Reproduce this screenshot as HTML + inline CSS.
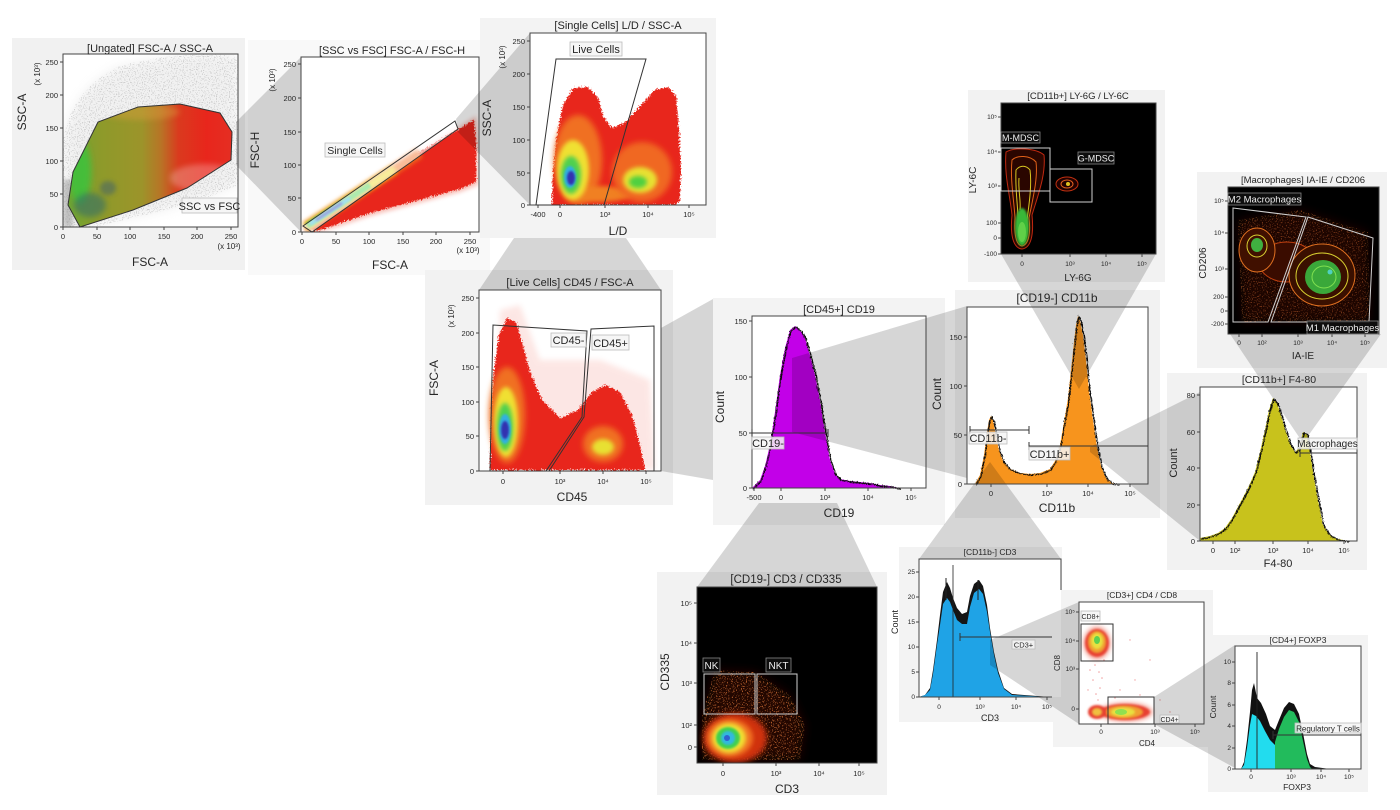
<!DOCTYPE html>
<html><head><meta charset="utf-8">
<style>
html,body{margin:0;padding:0;background:#fff}
svg{display:block}
text{font-family:"Liberation Sans",Arial,sans-serif;fill:#262626}
.tk{font-size:7.5px;fill:#333}
.tks{font-size:6.5px;fill:#333}
.ax{font-size:12px}
.gl{font-size:11px}
</style></head>
<body>
<svg width="1400" height="810" viewBox="0 0 1400 810" xmlns="http://www.w3.org/2000/svg">
<defs>
<filter id="b1" x="-20%" y="-20%" width="140%" height="140%"><feGaussianBlur stdDeviation="1"/></filter>
<filter id="b2" x="-30%" y="-30%" width="160%" height="160%"><feGaussianBlur stdDeviation="2"/></filter>
<filter id="b3" x="-30%" y="-30%" width="160%" height="160%"><feGaussianBlur stdDeviation="3"/></filter>
<filter id="b5" x="-30%" y="-30%" width="160%" height="160%"><feGaussianBlur stdDeviation="5"/></filter>
<filter id="rough" x="-5%" y="-10%" width="110%" height="120%"><feTurbulence type="turbulence" baseFrequency="0.9 0.3" numOctaves="1" seed="4" result="n"/><feDisplacementMap in="SourceGraphic" in2="n" scale="3" xChannelSelector="R" yChannelSelector="G"/></filter>
<filter id="rag" x="-10%" y="-10%" width="120%" height="120%"><feTurbulence type="fractalNoise" baseFrequency="0.7" numOctaves="2" seed="2" result="n"/><feDisplacementMap in="SourceGraphic" in2="n" scale="6" xChannelSelector="R" yChannelSelector="G"/></filter>
<filter id="spkR" x="0" y="0" width="100%" height="100%"><feTurbulence type="fractalNoise" baseFrequency="0.8" numOctaves="1" seed="9" result="n"/><feColorMatrix in="n" type="matrix" values="0 0 0 0 0.85 0 0 0 0 0.22 0 0 0 0 0.05 9 0 0 0 -5.1" result="d"/><feComposite in="d" in2="SourceAlpha" operator="in"/></filter>
<filter id="spkG" x="0" y="0" width="100%" height="100%"><feTurbulence type="fractalNoise" baseFrequency="0.85" numOctaves="1" seed="3" result="n"/><feColorMatrix in="n" type="matrix" values="0 0 0 0 0.55 0 0 0 0 0.55 0 0 0 0 0.55 9 0 0 0 -5.0" result="d"/><feComposite in="d" in2="SourceAlpha" operator="in"/></filter>
<linearGradient id="g1" gradientUnits="userSpaceOnUse" x1="63" y1="0" x2="238" y2="0">
<stop offset="0" stop-color="#6aa834"/><stop offset="0.22" stop-color="#8e9a2a"/><stop offset="0.45" stop-color="#9c942a"/><stop offset="0.56" stop-color="#b87426"/><stop offset="0.66" stop-color="#da3a1e"/><stop offset="0.82" stop-color="#e8261c"/><stop offset="1" stop-color="#e43024"/>
</linearGradient>
<clipPath id="c1"><rect x="63" y="54" width="175" height="173"/></clipPath>
<clipPath id="c1g"><polygon points="68,205 73,172 98,122 138,107 180,104 220,113 232,132 231,160 187,188 133,210 80,227"/></clipPath>
<clipPath id="c2"><rect x="301" y="57" width="178" height="175"/></clipPath>
<clipPath id="c3"><rect x="530" y="33" width="176" height="172"/></clipPath>
<clipPath id="c4"><rect x="479" y="290" width="182" height="181"/></clipPath>
<clipPath id="c7"><rect x="1001" y="103" width="155" height="151"/></clipPath>
<clipPath id="c8"><rect x="1228" y="187" width="151" height="147"/></clipPath>
<clipPath id="c10"><rect x="697" y="587" width="180" height="176"/></clipPath>
<clipPath id="c12"><rect x="1079" y="602" width="125" height="122"/></clipPath>
</defs>

<!-- PANEL BACKGROUNDS -->
<g>
<rect x="12" y="38" width="233" height="232" fill="#f1f1f1"/>
<rect x="248" y="40" width="242" height="235" fill="#f9f9f9"/>
<rect x="480" y="18" width="236" height="220" fill="#f3f3f3"/>
<rect x="425" y="270" width="248" height="235" fill="#f2f2f2"/>
<rect x="713" y="298" width="232" height="227" fill="#f3f3f3"/>
<rect x="955" y="290" width="205" height="228" fill="#f2f2f2"/>
<rect x="968" y="90" width="197" height="192" fill="#f2f2f2"/>
<rect x="1197" y="172" width="190" height="196" fill="#f2f2f2"/>
<rect x="1167" y="373" width="200" height="197" fill="#f2f2f2"/>
<rect x="657" y="572" width="230" height="223" fill="#f2f2f2"/>
<rect x="899" y="547" width="163" height="175" fill="#f3f3f3"/>
<rect x="1053" y="590" width="160" height="157" fill="#f3f3f3"/>
<rect x="1208" y="635" width="160" height="157" fill="#f3f3f3"/>
</g>

<!-- PLOT INTERIORS -->
<rect x="63" y="54" width="175" height="173" fill="#fff"/>
<rect x="301" y="57" width="178" height="175" fill="#fff"/>
<rect x="530" y="33" width="176" height="172" fill="#fff"/>
<rect x="479" y="290" width="182" height="181" fill="#fff"/>
<rect x="752" y="316" width="174" height="172" fill="#fff"/>
<rect x="967" y="307" width="181" height="177" fill="#fff"/>
<rect x="1001" y="103" width="155" height="151" fill="#000"/>
<rect x="1228" y="187" width="151" height="147" fill="#000"/>
<rect x="1200" y="387" width="157" height="154" fill="#fff"/>
<rect x="697" y="587" width="180" height="176" fill="#000"/>
<rect x="919" y="559" width="142" height="138" fill="#fff"/>
<rect x="1079" y="602" width="125" height="122" fill="#fff"/>
<rect x="1235" y="646" width="126" height="123" fill="#fff"/>

<!-- P1 DATA -->
<g clip-path="url(#c1)">
<path d="M63,227 L63,140 Q72,88 120,66 Q180,50 238,56 L238,185 Q200,202 150,214 Q110,223 95,227 Z" fill="#8a8a8a" fill-opacity="0.8" filter="url(#spkG)"/>
<path d="M63,227 L63,140 Q72,88 120,66 Q180,50 238,56 L238,185 Q200,202 150,214 Q110,223 95,227 Z" fill="#c8c8c8" opacity="0.25" filter="url(#b5)"/>
<rect x="63" y="180" width="10" height="47" fill="#8c8c8c" opacity="0.5" filter="url(#b2)"/>
<g clip-path="url(#c1g)">
<rect x="60" y="100" width="180" height="130" fill="url(#g1)"/>
<ellipse cx="80" cy="172" rx="11" ry="32" fill="#3ec23e" opacity="0.85" filter="url(#b3)"/>
<ellipse cx="90" cy="205" rx="16" ry="12" fill="#356e68" opacity="0.6" filter="url(#b3)"/>
<ellipse cx="108" cy="188" rx="8" ry="7" fill="#3e5f70" opacity="0.5" filter="url(#b2)"/>
<ellipse cx="205" cy="178" rx="35" ry="14" fill="#fff" opacity="0.25" filter="url(#b3)"/>
<ellipse cx="140" cy="112" rx="40" ry="8" fill="#e0a040" opacity="0.4" filter="url(#b3)"/>
</g>
</g>

<!-- P2 DATA -->
<g clip-path="url(#c2)">
<path d="M303,229 L340,205 L380,178 L420,152 L455,130 L476,116 L478,140 L478,185 L460,192 L430,200 L400,208 L370,216 L340,226 L318,232 L305,232 Z" fill="#f08070" opacity="0.5" filter="url(#b2)"/>
<path d="M305,229 L340,205 L380,178 L420,152 L455,131 L474,120 L476,142 L476,182 L460,189 L430,197 L400,205 L370,213 L340,223 L318,231 Z" fill="#e8261c" filter="url(#rag)"/>
<line x1="306" y1="227" x2="420" y2="153" stroke="#f06a1c" stroke-width="10" filter="url(#b2)"/>
<line x1="306" y1="227" x2="395" y2="169" stroke="#f0e020" stroke-width="8" filter="url(#b2)"/>
<line x1="307" y1="226" x2="370" y2="185" stroke="#48d050" stroke-width="6" filter="url(#b1)"/>
<line x1="310" y1="224" x2="350" y2="198" stroke="#30b8e0" stroke-width="4" filter="url(#b1)"/>
<line x1="316" y1="220" x2="342" y2="203" stroke="#2038b0" stroke-width="3" filter="url(#b1)"/>
</g>

<!-- P3 DATA -->
<g clip-path="url(#c3)">
<path d="M552,205 L553,172 L557,135 L563,105 L573,88 L588,87 L598,98 L604,118 L612,128 L626,122 L640,106 L655,90 L668,87 L676,96 L679,130 L681,170 L680,200 L676,205 Z" fill="#e8261c" filter="url(#rag)"/>
<ellipse cx="578" cy="160" rx="24" ry="45" fill="#f07020" filter="url(#b3)"/>
<ellipse cx="598" cy="194" rx="34" ry="8" fill="#f08020" filter="url(#b2)"/>
<ellipse cx="573" cy="170" rx="16" ry="30" fill="#f0e030" filter="url(#b2)"/>
<ellipse cx="571" cy="175" rx="10" ry="19" fill="#50d050" filter="url(#b2)"/>
<ellipse cx="570" cy="177" rx="6" ry="11" fill="#30b0e0" filter="url(#b1)"/>
<ellipse cx="571" cy="178" rx="4" ry="7" fill="#3030b0" filter="url(#b1)"/>
<ellipse cx="642" cy="172" rx="30" ry="30" fill="#f06820" filter="url(#b3)"/>
<ellipse cx="640" cy="180" rx="17" ry="13" fill="#e8e030" filter="url(#b2)"/>
<ellipse cx="638" cy="182" rx="9" ry="6" fill="#50d040" filter="url(#b2)"/>
</g>

<!-- P4 DATA -->
<g clip-path="url(#c4)">
<path d="M495,470 L500,310 L520,305 L540,360 L600,360 L650,380 L655,470 Z" fill="#f06050" opacity="0.15" filter="url(#b3)"/>
<path d="M490,470 L491,420 L494,370 L499,335 L507,318 L516,322 L523,345 L530,372 L542,400 L560,418 L578,410 L592,392 L606,385 L620,392 L632,415 L640,445 L645,470 Z" fill="#e8261c" filter="url(#rag)"/>
<ellipse cx="507" cy="415" rx="18" ry="48" fill="#f07020" filter="url(#b3)"/>
<ellipse cx="506" cy="422" rx="12" ry="35" fill="#f0e030" filter="url(#b2)"/>
<ellipse cx="505" cy="427" rx="8" ry="24" fill="#50d050" filter="url(#b2)"/>
<ellipse cx="505" cy="429" rx="6" ry="15" fill="#30b0e0" filter="url(#b1)"/>
<ellipse cx="505" cy="430" rx="4" ry="9" fill="#3030b0" filter="url(#b1)"/>
<ellipse cx="603" cy="444" rx="20" ry="18" fill="#f07020" filter="url(#b3)"/>
<ellipse cx="603" cy="447" rx="11" ry="8" fill="#e8e030" filter="url(#b2)"/>
</g>

<!-- P5 HIST -->
<path d="M752,488 L760,480 L765,466 L770,445 L775,412 L780,375 L785,348 L790,330 L795,326 L800,330 L805,338 L810,355 L815,375 L820,400 L825,432 L830,460 L835,474 L840,479 L850,481 L860,482 L870,483 L880,485 L890,486 L900,488 Z" fill="#c200e8"/>
<path d="M752,488 L760,480 L765,466 L770,445 L775,412 L780,375 L785,348 L790,330 L795,326 L800,330 L805,338 L810,355 L815,375 L820,400 L825,432 L830,460 L835,474 L840,479 L850,481 L860,482 L870,483 L880,485 L890,486 L900,488" fill="none" stroke="#111" stroke-width="1.4" filter="url(#rough)"/>

<!-- P6 HIST -->
<path d="M975,484 L980,475 L984,455 L987,432 L989,420 L991,416 L993,420 L996,436 L999,450 L1003,461 L1010,469 L1020,473 L1030,474 L1040,473 L1050,469 L1055,461 L1060,445 L1064,422 L1068,398 L1071,370 L1074,342 L1076,325 L1078,316 L1080,320 L1083,335 L1086,360 L1089,390 L1093,420 L1097,447 L1101,466 L1106,478 L1112,483 L1118,484 Z" fill="#f7941d"/>
<path d="M975,484 L980,475 L984,455 L987,432 L989,420 L991,416 L993,420 L996,436 L999,450 L1003,461 L1010,469 L1020,473 L1030,474 L1040,473 L1050,469 L1055,461 L1060,445 L1064,422 L1068,398 L1071,370 L1074,342 L1076,325 L1078,316 L1080,320 L1083,335 L1086,360 L1089,390 L1093,420 L1097,447 L1101,466 L1106,478 L1112,483 L1118,484" fill="none" stroke="#111" stroke-width="1.3" filter="url(#rough)"/>

<!-- P7 DATA -->
<g clip-path="url(#c7)">
<path d="M1006,152 C1004,175 1010,195 1012,215 C1010,235 1013,248 1022,249 C1031,248 1034,235 1032,215 C1038,195 1046,175 1044,155 C1036,148 1014,147 1006,152Z" fill="#2a0600" stroke="#c02810" stroke-width="1"/>
<path d="M1012,160 C1010,180 1014,200 1015,218 C1014,235 1016,245 1022,246 C1028,245 1031,235 1029,218 C1033,198 1038,178 1036,162 C1030,155 1017,155 1012,160Z" fill="none" stroke="#e06018" stroke-width="1"/>
<path d="M1016,170 C1015,190 1018,205 1018,220 C1017,235 1019,243 1022,243 C1026,243 1028,235 1027,220 C1029,205 1032,185 1030,170 C1026,165 1020,165 1016,170Z" fill="none" stroke="#d8c820" stroke-width="1"/>
<path d="M1019,178 C1018,190 1021,200 1020,210" fill="none" stroke="#d8c820" stroke-width="1"/>
<ellipse cx="1022" cy="227" rx="7" ry="19" fill="#38b838" filter="url(#b1)"/>
<ellipse cx="1022" cy="232" rx="4" ry="10" fill="#60d048"/>
<ellipse cx="1067" cy="184" rx="11" ry="7" fill="#200000" stroke="#c03010"/>
<ellipse cx="1067" cy="184" rx="6" ry="4" fill="none" stroke="#e06020"/>
<ellipse cx="1068" cy="184" rx="2" ry="2" fill="#e0c020"/>
</g>

<!-- P8 DATA -->
<g clip-path="url(#c8)">
<path d="M1238,220 L1300,210 L1368,232 L1370,322 L1242,322 Z" fill="#d83010" fill-opacity="0.6" filter="url(#spkR)"/>
<path d="M1238,220 L1300,210 L1368,232 L1370,322 L1242,322 Z" fill="#4a1004" opacity="0.4" filter="url(#b5)"/>
<ellipse cx="1287" cy="262" rx="28" ry="20" fill="#3a0c00" stroke="#c04010"/>
<ellipse cx="1257" cy="250" rx="18" ry="22" fill="#401000" stroke="#e07020"/>
<ellipse cx="1257" cy="246" rx="10" ry="11" fill="none" stroke="#d8d030"/>
<ellipse cx="1257" cy="245" rx="6" ry="7" fill="#40b040"/>
<ellipse cx="1322" cy="275" rx="33" ry="31" fill="#3a1000" stroke="#e07020"/>
<ellipse cx="1322" cy="276" rx="26" ry="23" fill="none" stroke="#d8d030"/>
<ellipse cx="1323" cy="277" rx="18" ry="17" fill="#3aa83a"/>
<ellipse cx="1324" cy="277" rx="12" ry="11" fill="none" stroke="#80e050"/>
<circle cx="1330" cy="272" r="2.5" fill="#50d0c0"/>
</g>

<!-- P9 HIST -->
<path d="M1200,541 L1200,538 L1210,536 L1218,533 L1225,528 L1232,518 L1240,503 L1248,488 L1255,472 L1260,452 L1265,430 L1269,410 L1273,398 L1277,403 L1281,415 L1286,432 L1291,446 L1295,452 L1299,448 L1303,432 L1307,434 L1310,452 L1314,478 L1318,500 L1323,525 L1330,535 L1338,539 L1348,541 Z" fill="#c8c21c"/>
<path d="M1200,538 L1210,536 L1218,533 L1225,528 L1232,518 L1240,503 L1248,488 L1255,472 L1260,452 L1265,430 L1269,410 L1273,398 L1277,403 L1281,415 L1286,432 L1291,446 L1295,452 L1299,448 L1303,432 L1307,434 L1310,452 L1314,478 L1318,500 L1323,525 L1330,535 L1338,539 L1348,541" fill="none" stroke="#111" stroke-width="1.4" filter="url(#rough)"/>

<!-- P10 DATA -->
<g clip-path="url(#c10)">
<path d="M702,715 L715,670 L755,672 L790,695 L805,725 L800,760 L702,760 Z" fill="#3a0800" opacity="0.6" filter="url(#b5)"/>
<path d="M702,715 L715,670 L755,672 L790,695 L805,725 L800,760 L702,760 Z" fill="#d02a10" fill-opacity="0.7" filter="url(#spkR)"/>
<ellipse cx="735" cy="738" rx="32" ry="25" fill="#d03010" filter="url(#b3)"/>
<ellipse cx="730" cy="738" rx="23" ry="19" fill="#f07020" filter="url(#b2)"/>
<ellipse cx="729" cy="738" rx="17" ry="15" fill="#f0e030" filter="url(#b2)"/>
<ellipse cx="728" cy="738" rx="12" ry="11" fill="#40d050" filter="url(#b1)"/>
<ellipse cx="728" cy="738" rx="7" ry="7" fill="#30b8e0" filter="url(#b1)"/>
<ellipse cx="727" cy="738" rx="3" ry="3" fill="#3060d0"/>
</g>

<!-- P11 HIST -->
<path d="M919,697 L925,695 L930,688 L933,670 L937,640 L940,615 L943,592 L947,582 L950,588 L953,598 L957,608 L962,614 L967,612 L970,596 L974,584 L979,580 L983,586 L987,605 L990,628 L994,652 L998,670 L1004,688 L1012,694 L1050,697 Z" fill="#151515"/>
<path d="M919,697 L925,695 L930,690 L933,674 L937,645 L940,625 L943,604 L947,598 L950,602 L953,610 L957,620 L962,624 L967,624 L970,607 L974,593 L979,589 L983,594 L987,612 L990,632 L994,655 L998,673 L1004,689 L1012,695 L1050,697 Z" fill="#1fa3e6"/>
<line x1="953" y1="697" x2="953" y2="565" stroke="#222" stroke-width="0.8"/>
<line x1="946" y1="600" x2="946" y2="578" stroke="#222" stroke-width="1"/>
<line x1="978" y1="600" x2="978" y2="580" stroke="#222" stroke-width="1"/>

<!-- P12 DATA -->
<g clip-path="url(#c12)">
<g fill="#f0a0a0">
<circle cx="1095" cy="665" r="0.8"/><circle cx="1099" cy="672" r="0.8"/><circle cx="1093" cy="680" r="0.8"/><circle cx="1100" cy="688" r="0.8"/><circle cx="1096" cy="694" r="0.8"/><circle cx="1104" cy="660" r="0.8"/><circle cx="1090" cy="670" r="0.8"/><circle cx="1102" cy="678" r="0.8"/><circle cx="1120" cy="690" r="0.7"/><circle cx="1135" cy="680" r="0.7"/><circle cx="1150" cy="660" r="0.7"/><circle cx="1130" cy="640" r="0.7"/><circle cx="1160" cy="700" r="0.7"/><circle cx="1115" cy="698" r="0.7"/><circle cx="1140" cy="695" r="0.7"/><circle cx="1088" cy="690" r="0.7"/><circle cx="1098" cy="700" r="0.7"/><circle cx="1170" cy="712" r="0.7"/>
</g>
<ellipse cx="1097" cy="643" rx="14" ry="17" fill="#f08070" opacity="0.6" filter="url(#b2)"/>
<ellipse cx="1097" cy="643" rx="12" ry="14" fill="#e84030" filter="url(#b1)"/>
<ellipse cx="1097" cy="642" rx="9" ry="11" fill="#f0a030" filter="url(#b1)"/>
<ellipse cx="1097" cy="641" rx="6" ry="8" fill="#e8e040" filter="url(#b1)"/>
<ellipse cx="1097" cy="640" rx="3" ry="4" fill="#60d050"/>
<ellipse cx="1126" cy="712" rx="27" ry="10" fill="#f08070" opacity="0.6" filter="url(#b2)"/>
<ellipse cx="1125" cy="712" rx="25" ry="8" fill="#e84030" filter="url(#b1)"/>
<ellipse cx="1124" cy="712" rx="19" ry="6.5" fill="#f0a030" filter="url(#b1)"/>
<ellipse cx="1123" cy="712" rx="12" ry="4.5" fill="#e8e040" filter="url(#b1)"/>
<ellipse cx="1121" cy="712" rx="6" ry="3" fill="#90e050"/>
<ellipse cx="1097" cy="712" rx="9" ry="7" fill="#e84030" filter="url(#b1)"/>
<ellipse cx="1097" cy="712" rx="5" ry="4" fill="#f0c040" filter="url(#b1)"/>
</g>

<!-- P13 HIST -->
<path d="M1241,769 L1244,762 L1247,740 L1250,712 L1252,690 L1254,683 L1257,698 L1261,703 L1266,714 L1270,726 L1275,730 L1279,720 L1284,708 L1289,702 L1294,704 L1299,714 L1303,733 L1307,754 L1310,764 L1315,767 L1330,769 Z" fill="#111"/>
<path d="M1241,769 L1244,765 L1247,748 L1250,725 L1252,714 L1256,716 L1260,721 L1265,731 L1270,740 L1275,745 L1275,769 Z" fill="#22dcee"/>
<path d="M1275,769 L1275,742 L1279,729 L1284,717 L1289,710 L1294,712 L1299,722 L1303,741 L1307,759 L1310,767 L1312,769 Z" fill="#22bb5c"/>
<line x1="1257" y1="769" x2="1257" y2="652" stroke="#222" stroke-width="0.9"/>

<!-- CONES -->
<g fill="#000" fill-opacity="0.16">
<polygon points="236,122 301,57 301,232 236,165"/>
<polygon points="456,119 530,33 530,205 458,132"/>
<polygon points="514,238 626,238 661,290 479,290"/>
<polygon points="661,328 713,299 713,480 661,471"/>
<polygon points="792,358 967,306 967,478 792,432"/>
<polygon points="759,503 837,503 877,587 697,587"/>
<polygon points="1079,389 1001,254 1156,254"/>
<polygon points="1090,447 1200,392 1200,541 1090,452"/>
<polygon points="990,462 1061,559 919,559"/>
<polygon points="1303,443 1230,334 1381,334"/>
<polygon points="990,640 1079,602 1079,724 990,665"/>
<polygon points="1154,697 1235,645 1235,768 1154,724"/>
</g>

<!-- FRAMES -->
<g fill="none" stroke="#444" stroke-width="1">
<rect x="63" y="54" width="175" height="173"/>
<rect x="301" y="57" width="178" height="175"/>
<rect x="530" y="33" width="176" height="172"/>
<rect x="479" y="290" width="182" height="181"/>
<rect x="752" y="316" width="174" height="172"/>
<rect x="967" y="307" width="181" height="177"/>
<rect x="1001" y="103" width="155" height="151"/>
<rect x="1228" y="187" width="151" height="147"/>
<rect x="1200" y="387" width="157" height="154"/>
<rect x="697" y="587" width="180" height="176"/>
<path d="M919,697 L919,559 L1061,559 L1061,590 M919,697 L1052,697"/>
<rect x="1079" y="602" width="125" height="122"/>
<rect x="1235" y="646" width="126" height="123"/>
</g>

<!-- TICK MARKS -->
<g stroke="#444" stroke-width="1">
<path d="M60,227h3M60,194h3M60,161h3M60,128h3M60,95h3M60,62h3 M63,227v3M97,227v3M130,227v3M164,227v3M197,227v3M231,227v3"/>
<path d="M298,232h3M298,198h3M298,165h3M298,132h3M298,98h3M298,64h3 M302,232v3M336,232v3M369,232v3M403,232v3M436,232v3M470,232v3"/>
<path d="M527,205h3M527,173h3M527,140h3M527,107h3M527,74h3M527,41h3 M538,205v3M560,205v3M605,205v3M648,205v3M689,205v3"/>
<path d="M476,471h3M476,436h3M476,402h3M476,367h3M476,333h3M476,298h3 M503,471v3M560,471v3M603,471v3M646,471v3"/>
<path d="M749,488h3M749,433h3M749,377h3M749,321h3 M754,488v3M781,488v3M825,488v3M868,488v3M911,488v3"/>
<path d="M964,484h3M964,435h3M964,386h3M964,337h3 M991,484v3M1047,484v3M1088,484v3M1130,484v3"/>
<path d="M998,254h3M998,238h3M998,223h3M998,186h3M998,152h3M998,117h3 M1022,254v3M1070,254v3M1106,254v3M1142,254v3"/>
<path d="M1225,324h3M1225,311h3M1225,297h3M1225,269h3M1225,233h3M1225,201h3 M1239,334v3M1262,334v3M1298,334v3M1332,334v3M1365,334v3"/>
<path d="M1197,541h3M1197,505h3M1197,468h3M1197,432h3M1197,395h3 M1213,541v3M1235,541v3M1273,541v3M1308,541v3M1344,541v3"/>
<path d="M694,747h3M694,725h3M694,683h3M694,643h3M694,603h3 M723,763v3M776,763v3M819,763v3M859,763v3"/>
<path d="M916,697h3M916,672h3M916,647h3M916,622h3M916,597h3M916,572h3 M939,697v3M980,697v3M1016,697v3M1047,697v3"/>
<path d="M1076,709h3M1076,669h3M1076,641h3M1076,612h3 M1101,724v3M1155,724v3M1195,724v3"/>
<path d="M1232,769h3M1232,748h3M1232,726h3M1232,705h3M1232,683h3M1232,662h3 M1251,769v3M1291,769v3M1321,769v3M1349,769v3"/>
</g>

<!-- GATES -->
<g fill="none" stroke="#333" stroke-width="1">
<polygon points="68,205 73,172 98,122 138,107 180,104 220,113 232,132 231,160 187,188 133,210 80,227"/>
<polygon points="303,226 455,121 458,129 312,232" fill="#fff" fill-opacity="0.55"/>
<polygon points="536,205 556,59 646,59 604,205"/>
<polygon points="490,471 493,325 587,331 582,417 546,471"/>
<polygon points="549,471 584,417 591,329 654,326 654,471"/>
<path d="M752,433H828M752,429v8M828,429v8"/>
<path d="M970,430H1029M970,426v8M1029,426v8M1029,446H1148M1029,442v8"/>
<path d="M1300,453H1357M1300,449v8"/>
<path d="M960,637H1052M960,633v8"/>
<path d="M1273,735H1361M1273,731v8"/>
<rect x="1081" y="624" width="32" height="37"/>
<rect x="1108" y="697" width="46" height="27"/>
</g>
<g fill="none" stroke="#d0d0d0" stroke-width="1">
<rect x="1001" y="148" width="49" height="43"/>
<rect x="1050" y="169" width="42" height="33"/>
<polygon points="1233,208 1306,217 1268,322 1233,322"/>
<polygon points="1308,217 1373,238 1369,322 1271,322"/>
<rect x="704" y="674" width="51" height="40"/>
<rect x="757" y="674" width="40" height="40"/>
</g>

<!-- GATE LABELS -->
<g fill="#f4f4f4" fill-opacity="0.85" stroke="#bbb" stroke-width="0.8">
<rect x="182" y="198" width="55" height="15"/>
<rect x="325" y="143" width="60" height="14"/>
<rect x="570" y="42" width="52" height="14"/>
<rect x="551" y="333" width="35" height="14"/>
<rect x="592" y="335" width="37" height="15"/>
<rect x="752" y="437" width="32" height="12"/>
<rect x="969" y="432" width="38" height="12"/>
<rect x="1029" y="447" width="41" height="13"/>
<rect x="1298" y="438" width="59" height="11"/>
<rect x="1012" y="640" width="23" height="9"/>
<rect x="1081" y="611" width="19" height="10"/>
<rect x="1160" y="715" width="19" height="8"/>
<rect x="1295" y="723" width="66" height="10"/>
</g>
<g fill="#111" fill-opacity="0.85" stroke="#888" stroke-width="0.8">
<rect x="1001" y="132" width="39" height="11"/>
<rect x="1078" y="152" width="36" height="12"/>
<rect x="1228" y="193" width="73" height="12"/>
<rect x="1307" y="321" width="71" height="13"/>
<rect x="703" y="658" width="17" height="14"/>
<rect x="766" y="658" width="25" height="14"/>
</g>
<g class="gl">
<text x="209.5" y="210" text-anchor="middle">SSC vs FSC</text>
<text x="355" y="154" text-anchor="middle" style="font-size:10.5px">Single Cells</text>
<text x="596" y="53" text-anchor="middle">Live Cells</text>
<text x="568.5" y="344" text-anchor="middle">CD45-</text>
<text x="610.5" y="347" text-anchor="middle">CD45+</text>
<text x="768" y="447" text-anchor="middle">CD19-</text>
<text x="988" y="442" text-anchor="middle">CD11b-</text>
<text x="1049.5" y="458" text-anchor="middle">CD11b+</text>
<text x="1327.5" y="447" text-anchor="middle" style="font-size:10px">Macrophages</text>
<text x="1023.5" y="647.5" text-anchor="middle" style="font-size:7.5px">CD3+</text>
<text x="1090.5" y="619" text-anchor="middle" style="font-size:7px">CD8+</text>
<text x="1169.5" y="722" text-anchor="middle" style="font-size:7px">CD4+</text>
<text x="1328" y="731.5" text-anchor="middle" style="font-size:8px">Regulatory T cells</text>
</g>
<g class="gl">
<text x="1020.5" y="141" text-anchor="middle" style="font-size:9px;fill:#eee">M-MDSC</text>
<text x="1096" y="161.5" text-anchor="middle" style="font-size:9px;fill:#eee">G-MDSC</text>
<text x="1264.5" y="202.5" text-anchor="middle" style="font-size:9.5px;fill:#eee">M2 Macrophages</text>
<text x="1342.5" y="331" text-anchor="middle" style="font-size:9.5px;fill:#eee">M1 Macrophages</text>
<text x="711.5" y="669" text-anchor="middle" style="font-size:10px;fill:#eee">NK</text>
<text x="778.5" y="669" text-anchor="middle" style="font-size:10px;fill:#eee">NKT</text>
</g>

<!-- TITLES -->
<g text-anchor="middle">
<text x="150" y="52" style="font-size:11px">[Ungated] FSC-A / SSC-A</text>
<text x="392" y="54" style="font-size:11px">[SSC vs FSC] FSC-A / FSC-H</text>
<text x="618" y="29" style="font-size:11px">[Single Cells] L/D / SSC-A</text>
<text x="570" y="286" style="font-size:11px">[Live Cells] CD45 / FSC-A</text>
<text x="839" y="313" style="font-size:11px">[CD45+] CD19</text>
<text x="1057" y="302" style="font-size:12px">[CD19-] CD11b</text>
<text x="1078" y="99" style="font-size:9.5px">[CD11b+] LY-6G / LY-6C</text>
<text x="1303" y="183" style="font-size:9.5px">[Macrophages] IA-IE / CD206</text>
<text x="1279" y="383" style="font-size:10.5px">[CD11b+] F4-80</text>
<text x="786" y="583" style="font-size:11.5px">[CD19-] CD3 / CD335</text>
<text x="990" y="555" style="font-size:8.5px">[CD11b-] CD3</text>
<text x="1142" y="598" style="font-size:8.5px">[CD3+] CD4 / CD8</text>
<text x="1298" y="643" style="font-size:8.5px">[CD4+] FOXP3</text>
</g>

<!-- AXIS LABELS -->
<g text-anchor="middle">
<text x="150" y="266" class="ax">FSC-A</text>
<text transform="translate(26,112) rotate(-90)" class="ax">SSC-A</text>
<text transform="translate(40,74) rotate(-90)" style="font-size:8px">(x 10³)</text>
<text x="229" y="249" style="font-size:8px">(x 10³)</text>
<text x="390" y="269" class="ax">FSC-A</text>
<text transform="translate(259,150) rotate(-90)" class="ax">FSC-H</text>
<text transform="translate(275,80) rotate(-90)" style="font-size:8px">(x 10³)</text>
<text x="468" y="253" style="font-size:8px">(x 10³)</text>
<text x="618" y="235" class="ax">L/D</text>
<text transform="translate(491,118) rotate(-90)" class="ax">SSC-A</text>
<text transform="translate(505,57) rotate(-90)" style="font-size:8px">(x 10³)</text>
<text x="572" y="501" class="ax">CD45</text>
<text transform="translate(438,378) rotate(-90)" class="ax">FSC-A</text>
<text transform="translate(454,316) rotate(-90)" style="font-size:8px">(x 10³)</text>
<text x="839" y="517" class="ax">CD19</text>
<text transform="translate(724,407) rotate(-90)" class="ax">Count</text>
<text x="1057" y="512" class="ax">CD11b</text>
<text transform="translate(941,394) rotate(-90)" class="ax">Count</text>
<text x="1078" y="281" style="font-size:10px">LY-6G</text>
<text transform="translate(976,180) rotate(-90)" style="font-size:10px">LY-6C</text>
<text x="1303" y="359" style="font-size:10px">IA-IE</text>
<text transform="translate(1206,263) rotate(-90)" style="font-size:10px">CD206</text>
<text x="1278" y="567" style="font-size:11px">F4-80</text>
<text transform="translate(1177,463) rotate(-90)" style="font-size:11px">Count</text>
<text x="787" y="793" class="ax">CD3</text>
<text transform="translate(669,672) rotate(-90)" class="ax">CD335</text>
<text x="990" y="721" style="font-size:9px">CD3</text>
<text transform="translate(898,622) rotate(-90)" style="font-size:9px">Count</text>
<text x="1147" y="746" style="font-size:8px">CD4</text>
<text transform="translate(1060,663) rotate(-90)" style="font-size:8px">CD8</text>
<text x="1297" y="790" style="font-size:8.5px">FOXP3</text>
<text transform="translate(1216,707) rotate(-90)" style="font-size:8.5px">Count</text>
</g>

<!-- TICK LABELS -->
<g class="tk" text-anchor="end">
<text x="58" y="230">0</text><text x="58" y="197">50</text><text x="58" y="164">100</text><text x="58" y="131">150</text><text x="58" y="98">200</text><text x="58" y="65">250</text>
<text x="296" y="235">0</text><text x="296" y="201">50</text><text x="296" y="168">100</text><text x="296" y="135">150</text><text x="296" y="101">200</text><text x="296" y="67">250</text>
<text x="525" y="208">0</text><text x="525" y="176">50</text><text x="525" y="143">100</text><text x="525" y="110">150</text><text x="525" y="77">200</text><text x="525" y="44">250</text>
<text x="474" y="474">0</text><text x="474" y="439">50</text><text x="474" y="405">100</text><text x="474" y="370">150</text><text x="474" y="336">200</text><text x="474" y="301">250</text>
<text x="747" y="491">0</text><text x="747" y="436">50</text><text x="747" y="380">100</text><text x="747" y="324">150</text>
<text x="962" y="487">0</text><text x="962" y="438">50</text><text x="962" y="389">100</text><text x="962" y="340">150</text>
<text x="1195" y="544">0</text><text x="1195" y="508">20</text><text x="1195" y="471">40</text><text x="1195" y="435">60</text><text x="1195" y="398">80</text>
<text x="692" y="750">0</text><text x="692" y="728">10²</text><text x="692" y="686">10³</text><text x="692" y="646">10⁴</text><text x="692" y="606">10⁵</text>
</g>
<g class="tks" text-anchor="end">
<text x="997" y="256">-100</text><text x="997" y="240">0</text><text x="997" y="225">100</text><text x="997" y="188">10³</text><text x="997" y="154">10⁴</text><text x="997" y="119">10⁵</text>
<text x="1224" y="326">-200</text><text x="1224" y="313">0</text><text x="1224" y="299">200</text><text x="1224" y="271">10³</text><text x="1224" y="235">10⁴</text><text x="1224" y="203">10⁵</text>
<text x="915" y="699">0</text><text x="915" y="674">5</text><text x="915" y="649">10</text><text x="915" y="624">15</text><text x="915" y="599">20</text><text x="915" y="574">25</text>
<text x="1075" y="711">0</text><text x="1075" y="671">10³</text><text x="1075" y="643">10⁴</text><text x="1075" y="614">10⁵</text>
<text x="1231" y="771">0</text><text x="1231" y="750">2</text><text x="1231" y="728">4</text><text x="1231" y="707">6</text><text x="1231" y="685">8</text><text x="1231" y="664">10</text>
</g>
<g class="tk" text-anchor="middle">
<text x="63" y="239">0</text><text x="97" y="239">50</text><text x="130" y="239">100</text><text x="164" y="239">150</text><text x="197" y="239">200</text><text x="231" y="239">250</text>
<text x="302" y="244">0</text><text x="336" y="244">50</text><text x="369" y="244">100</text><text x="403" y="244">150</text><text x="436" y="244">200</text><text x="470" y="244">250</text>
<text x="538" y="217">-400</text><text x="560" y="217">0</text><text x="605" y="217">10³</text><text x="648" y="217">10⁴</text><text x="689" y="217">10⁵</text>
<text x="503" y="484">0</text><text x="560" y="484">10³</text><text x="603" y="484">10⁴</text><text x="646" y="484">10⁵</text>
<text x="754" y="500">-500</text><text x="781" y="500">0</text><text x="825" y="500">10³</text><text x="868" y="500">10⁴</text><text x="911" y="500">10⁵</text>
<text x="991" y="496">0</text><text x="1047" y="496">10³</text><text x="1088" y="496">10⁴</text><text x="1130" y="496">10⁵</text>
<text x="1213" y="553">0</text><text x="1235" y="553">10²</text><text x="1273" y="553">10³</text><text x="1308" y="553">10⁴</text><text x="1344" y="553">10⁵</text>
<text x="723" y="776">0</text><text x="776" y="776">10³</text><text x="819" y="776">10⁴</text><text x="859" y="776">10⁵</text>
</g>
<g class="tks" text-anchor="middle">
<text x="1022" y="266">0</text><text x="1070" y="266">10³</text><text x="1106" y="266">10⁴</text><text x="1142" y="266">10⁵</text>
<text x="1239" y="345">0</text><text x="1262" y="345">10²</text><text x="1298" y="345">10³</text><text x="1332" y="345">10⁴</text><text x="1365" y="345">10⁵</text>
<text x="939" y="709">0</text><text x="980" y="709">10³</text><text x="1016" y="709">10⁴</text><text x="1047" y="709">10⁵</text>
<text x="1101" y="734">0</text><text x="1155" y="734">10³</text><text x="1195" y="734">10⁵</text>
<text x="1251" y="779">0</text><text x="1291" y="779">10³</text><text x="1321" y="779">10⁴</text><text x="1349" y="779">10⁵</text>
</g>
</svg>
</body></html>
